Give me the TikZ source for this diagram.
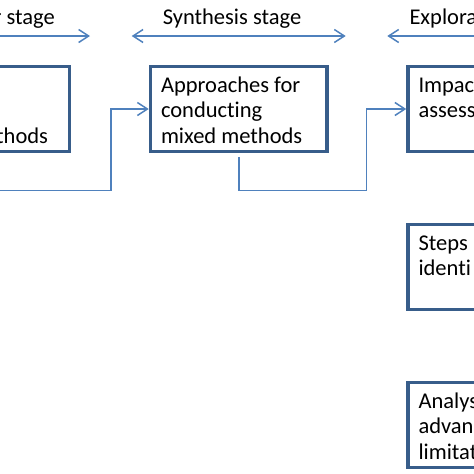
\documentclass[tikz,border=0pt]{standalone}
\usepackage{fontspec}
\setmainfont{Carlito}[Ligatures=NoCommon]
\usepackage{tikz}
\usetikzlibrary{arrows.meta}
\usetikzlibrary{positioning}

\definecolor{boxblue}{RGB}{56,93,138}
\definecolor{linkblue}{RGB}{79,129,189}

\newcommand{\boxlines}[1]{\begin{minipage}[c][85pt][t]{155.5pt}\vspace*{8pt}\raggedright\strut#1\end{minipage}}

\begin{document}
\begin{tikzpicture}[x=1pt, y=-1pt, >={Straight Barb[length=10pt,width=13pt]},
    stagebox/.style={draw=boxblue, line width=3.5pt, inner sep=0pt, minimum width=176.5pt,
        minimum height=85pt, font=\fontsize{22.5}{25.5}\selectfont},
    flow/.style={->, draw=linkblue, line width=1.5pt},
    stagespan/.style={<->, draw=linkblue, line width=1.5pt},
    stagelabel/.style={inner sep=0pt, font=\fontsize{22.5}{25.5}\selectfont},
    node distance=69.5pt and 77.5pt]

    \useasboundingbox (0,0) rectangle (474,474);
    \clip (0,0) rectangle (474,474);

    % Nodes

    \node[stagebox]                (mid)   at (238.75,109) {\boxlines{Approaches for\\conducting\\mixed methods}}; %
    \node[stagebox, left=of mid]   (lbox)  {\boxlines{\mbox{}\\\mbox{}\\\hspace*{92.7pt}thods}}; %
    \node[stagebox, right=of mid]  (imp)   {\boxlines{Impac\\assess}}; %
    \node[stagebox, below=of imp]  (steps) {\boxlines{Steps\\identi}}; %
    \node[stagebox, below=of steps] (anal) {\boxlines{Analys\\advan\\limitat}}; %

    % Stages

    \coordinate (pre-a) at (-125,36); \coordinate (pre-b) at (90,36);
    \coordinate (syn-a) at (131.7,36); \coordinate (syn-b) at (345.7,36);
    \coordinate (exp-a) at (387.3,36); \coordinate (exp-b) at (602,36);

    \draw[stagespan] (pre-a) -- (pre-b);
    \draw[stagespan] (syn-a) -- (syn-b);
    \draw[stagespan] (exp-a) -- (exp-b);

    \node[stagelabel, anchor=base east] (prelab) at (55,24) {r stage}; %
    \node[stagelabel, anchor=base]      (synlab) at (232,24) {Synthesis stage}; %
    \node[stagelabel, anchor=base west] (explab) at (409.3,24) {Explora}; %

    % Links

    \draw[flow, shorten <=4pt] (lbox.south) -- ++(0,37) -| ([xshift=-38pt]mid.west) -- (mid.west);
    \draw[flow, shorten <=4pt] (mid.south) -- ++(0,37) -| ([xshift=-40pt]imp.west) -- (imp.west);

\end{tikzpicture}
\end{document}
